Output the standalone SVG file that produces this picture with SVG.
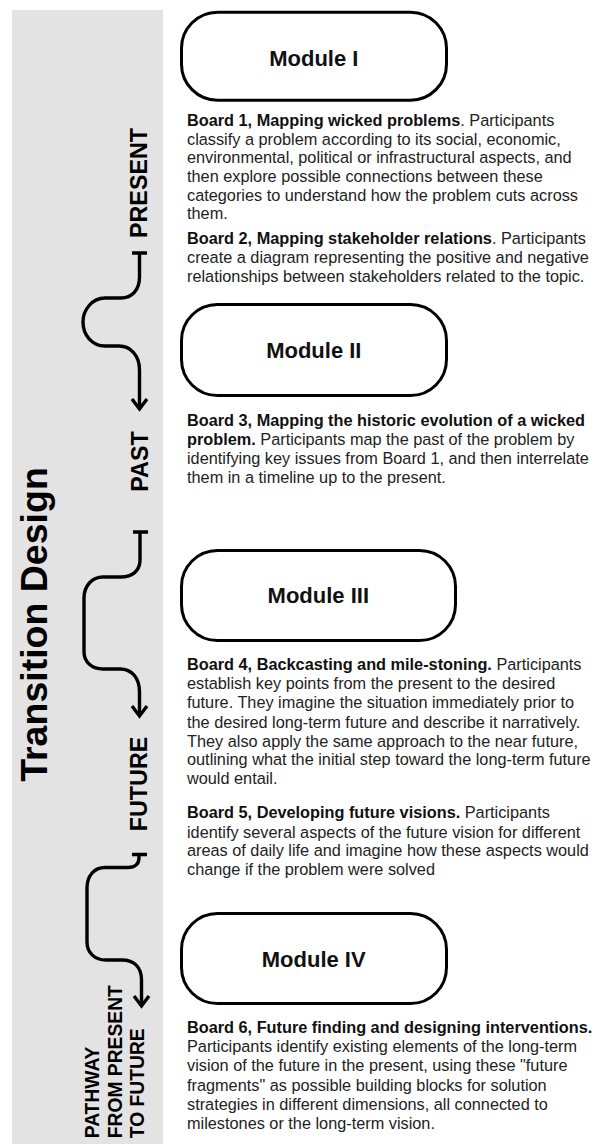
<svg xmlns="http://www.w3.org/2000/svg" width="592" height="1144" viewBox="0 0 592 1144">
<style>
.strip{fill:#e3e3e3}
.box{fill:#fff;stroke:#000;stroke-width:3}
.mod{font-family:"Liberation Sans",Arial,sans-serif;font-weight:bold;font-size:22px;fill:#111;text-anchor:middle}
.body{font-family:"Liberation Sans",Arial,sans-serif;font-size:16.3px;fill:#222}
.b{font-weight:bold;fill:#111}
.side{font-family:"Liberation Sans",Arial,sans-serif;font-weight:bold;fill:#000}
.conn{fill:none;stroke:#000;stroke-width:3.4;stroke-linejoin:round}
</style>
<defs>
<marker id="chev" markerUnits="userSpaceOnUse" orient="auto" markerWidth="24" markerHeight="24" refX="0" refY="0" viewBox="-14 -12 18 24" overflow="visible">
<path d="M-10,-7.5 L0,0 L-10,7.5" fill="none" stroke="#000" stroke-width="3.4" stroke-linejoin="miter"/>
</marker>
</defs>
<rect class="strip" x="12" y="10" width="151" height="1134"/>

<g id="title">
<text class="side" font-size="37.5" text-anchor="middle" transform="translate(47,624.5) rotate(-90)">Transition Design</text>
</g>
<g id="label-present">
<text class="side" font-size="23.3" text-anchor="middle" transform="translate(147,183) rotate(-90)">PRESENT</text>
</g>
<g id="label-past">
<text class="side" font-size="23.3" text-anchor="middle" transform="translate(148,461.5) rotate(-90)">PAST</text>
</g>
<g id="label-future">
<text class="side" font-size="23.3" text-anchor="middle" transform="translate(147,784) rotate(-90)">FUTURE</text>
</g>
<g id="label-pathway">
<text class="side" font-size="19.3" transform="translate(99,1138.3) rotate(-90)">PATHWAY</text>
<text class="side" font-size="19.3" transform="translate(121.7,1138.3) rotate(-90)">FROM PRESENT</text>
<text class="side" font-size="19.3" transform="translate(144,1138.3) rotate(-90)">TO FUTURE</text>
</g>

<g id="connectors">
<path class="conn" d="M132,253 H147 M139.5,253 V277 C139.5,290 132,298 121,298 H105 C92,298 83,310 83,322 C83,335 92,346 105,346 H119 C131,346 139.5,356 139.5,370 V409" marker-end="url(#chev)"/>
<path class="conn" d="M133,532 H148 M140,532 V560 C140,571 132,577 121,577 H103 C92,577 84,586 84,598 V652 C84,662 92,669 103,669 H120 C132,669 139.5,678 139.5,692 V716" marker-end="url(#chev)"/>
<path class="conn" d="M132,854.5 H147 M139,854.5 V858 C139,864 135,867.5 128,867.5 H105 C94,867.5 87,876 87,888 V942 C87,953 95,960 106,960 H122 C134,960 141.5,967 141.5,980 V1006" marker-end="url(#chev)"/>
</g>

<g id="module-1">
<rect class="box" x="181.5" y="12.2" width="265" height="88" rx="36"/>
<text class="mod" x="313.8" y="65.7">Module I</text>
</g>
<g id="module-2">
<rect class="box" x="181.5" y="304.5" width="265" height="91" rx="36"/>
<text class="mod" x="313.8" y="358.3">Module II</text>
</g>
<g id="module-3">
<rect class="box" x="181.5" y="550.5" width="274" height="90" rx="36"/>
<text class="mod" x="318.3" y="603.3">Module III</text>
</g>
<g id="module-4">
<rect class="box" x="181.5" y="913.5" width="265" height="90" rx="36"/>
<text class="mod" x="313.7" y="966.7">Module IV</text>
</g>

<g id="board-1">
<text class="body" x="187" y="126"><tspan class="b">Board 1, Mapping wicked problems</tspan>. Participants</text>
<text class="body" x="187" y="144.7">classify a problem according to its social, economic,</text>
<text class="body" x="187" y="163.3">environmental, political or infrastructural aspects, and</text>
<text class="body" x="187" y="182">then explore possible connections between these</text>
<text class="body" x="187" y="200.7">categories to understand how the problem cuts across</text>
<text class="body" x="187" y="219.3">them.</text>
</g>
<g id="board-2">
<text class="body" x="187" y="244.3"><tspan class="b">Board 2, Mapping stakeholder relations</tspan>. Participants</text>
<text class="body" x="187" y="263">create a diagram representing the positive and negative</text>
<text class="body" x="187" y="281.7">relationships between stakeholders related to the topic.</text>
</g>
<g id="board-3">
<text class="body" x="187" y="426"><tspan class="b">Board 3, Mapping the historic evolution of a wicked</tspan></text>
<text class="body" x="187" y="445"><tspan class="b">problem.</tspan> Participants map the past of the problem by</text>
<text class="body" x="187" y="464.3">identifying key issues from Board 1, and then interrelate</text>
<text class="body" x="187" y="483.3">them in a timeline up to the present.</text>
</g>
<g id="board-4">
<text class="body" x="187" y="670.3"><tspan class="b">Board 4, Backcasting and mile-stoning.</tspan> Participants</text>
<text class="body" x="187" y="689.3">establish key points from the present to the desired</text>
<text class="body" x="187" y="708.3">future. They imagine the situation immediately prior to</text>
<text class="body" x="187" y="727.6">the desired long-term future and describe it narratively.</text>
<text class="body" x="187" y="746.6">They also apply the same approach to the near future,</text>
<text class="body" x="187" y="765.3">outlining what the initial step toward the long-term future</text>
<text class="body" x="187" y="784.3">would entail.</text>
</g>
<g id="board-5">
<text class="body" x="187" y="818.3"><tspan class="b">Board 5, Developing future visions.</tspan> Participants</text>
<text class="body" x="187" y="837.6">identify several aspects of the future vision for different</text>
<text class="body" x="187" y="856.3">areas of daily life and imagine how these aspects would</text>
<text class="body" x="187" y="874.6">change if the problem were solved</text>
</g>
<g id="board-6">
<text class="body" x="187" y="1032.6"><tspan class="b">Board 6, Future finding and designing interventions.</tspan></text>
<text class="body" x="187" y="1052">Participants identify existing elements of the long-term</text>
<text class="body" x="187" y="1071.3">vision of the future in the present, using these "future</text>
<text class="body" x="187" y="1090.6">fragments" as possible building blocks for solution</text>
<text class="body" x="187" y="1110">strategies in different dimensions, all connected to</text>
<text class="body" x="187" y="1129.3">milestones or the long-term vision.</text>
</g>
</svg>
